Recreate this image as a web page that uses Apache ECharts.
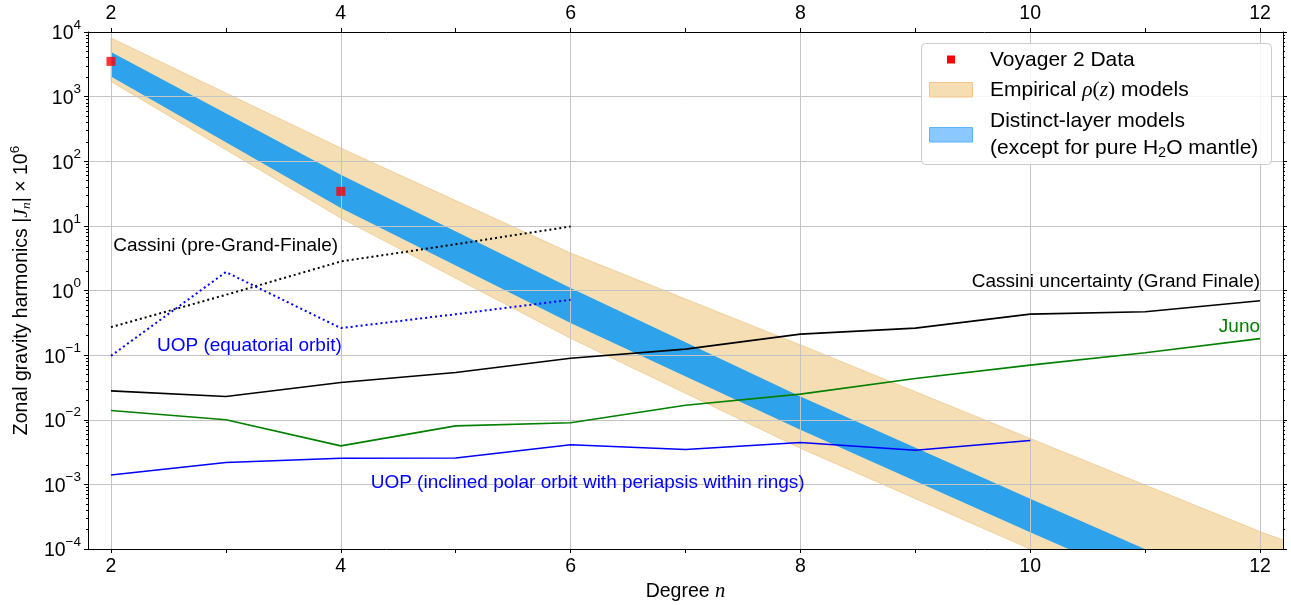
<!DOCTYPE html>
<html>
<head>
<meta charset="utf-8">
<title>Zonal gravity harmonics of Uranus</title>
<script src="https://cdn.jsdelivr.net/npm/echarts@6/dist/echarts.min.js"></script>
<style>
  html, body { margin: 0; padding: 0; background: #ffffff; }
  #chart { width: 1291px; height: 605px; }
</style>
</head>
<body>
<div id="chart"></div>
<script>
// ---- data (|J_n| x 10^6) ----
const degrees = [2, 3, 4, 5, 6, 7, 8, 9, 10, 11, 12];
const cassiniGrandFinale = [0.028, 0.0229, 0.0377, 0.0537, 0.0897, 0.124, 0.211, 0.262, 0.431, 0.468, 0.693];
const juno = [0.0139, 0.0100, 0.00394, 0.00805, 0.0090, 0.0168, 0.0249, 0.0435, 0.070, 0.109, 0.180];

const polarDegrees = [2, 3, 4, 5, 6, 7, 8, 9, 10];
const uopPolar = [0.0014, 0.00218, 0.00254, 0.00256, 0.00410, 0.00346, 0.00444, 0.00338, 0.00477];

const earlyDegrees = [2, 3, 4, 5, 6];
const cassiniPreGrandFinale = [0.271, 0.857, 2.81, 5.2, 9.8];
const uopEquatorial = [0.0975, 1.93, 0.262, 0.43, 0.718];

const voyagerDegrees = [2, 4];
const voyagerJ = [3510.7, 34.2];

// model envelopes, even degrees only
const bandDegrees = [2, 4, 6, 8, 10, 12, 14];
const empiricalUpper = [8070, 160, 3.79, 0.144, 0.00513, 0.000186, 0.0000093];
const empiricalLower = [1718, 13.2, 0.182, 0.00363, 0.000100, 0.000004, 0.0000002];
const layerUpper = [4900, 61.7, 1.09, 0.0229, 0.000597, 0.0000166, 0.0000005];
const layerLower = [2056, 18.9, 0.313, 0.00698, 0.000182, 0.000005, 0.00000016];

// ---- axis ticks ----
const xTickValues = [2, 3, 4, 5, 6, 7, 8, 9, 10, 11, 12];
const xLabelValues = [2, 4, 6, 8, 10, 12];
const yDecades = [1e-4, 1e-3, 1e-2, 1e-1, 1e0, 1e1, 1e2, 1e3, 1e4];
const yMinorTicks = [];
for (let k = -4; k < 4; k++) {
  for (let m = 2; m <= 9; m++) yMinorTicks.push(m * Math.pow(10, k));
}

// ---- annotations [degree, value, text, colour, anchor] ----
const annotations = [
  [2.02, 5.0, 'Cassini (pre-Grand-Finale)', '#000000', 'left'],
  [2.40, 0.14, 'UOP (equatorial orbit)', '#0000ff', 'left'],
  [12.0, 1.36, 'Cassini uncertainty (Grand Finale)', '#000000', 'right'],
  [12.0, 0.27, 'Juno', '#008000', 'right'],
  [4.26, 0.00105, 'UOP (inclined polar orbit with periapsis within rings)', '#0000ff', 'left']
];

const SANS = '"Liberation Sans", Arial, Helvetica, sans-serif';
const SERIF = '"Liberation Serif", "Times New Roman", serif';
const FS = 19.5;

const pair = (xs, ys) => xs.map((x, i) => [x, ys[i]]);

function bandSeries(name, lower, upper, fill, edge, z) {
  return {
    type: 'custom',
    name: name,
    clip: true,
    silent: true,
    z: z,
    data: bandDegrees.map((n, i) => [n, lower[i], upper[i]]),
    encode: { x: 0, y: [1, 2] },
    renderItem: function (params, api) {
      if (params.dataIndex !== 0) return null;
      const top = bandDegrees.map((n, i) => api.coord([n, upper[i]]));
      const bottom = bandDegrees.map((n, i) => api.coord([n, lower[i]])).reverse();
      return {
        type: 'polygon',
        shape: { points: top.concat(bottom) },
        style: { fill: fill, stroke: edge, lineWidth: edge ? 1 : 0 }
      };
    }
  };
}

function lineSeries(name, xs, ys, color, dotted) {
  return {
    type: 'line',
    name: name,
    data: pair(xs, ys),
    symbol: 'none',
    clip: true,
    silent: true,
    z: 3,
    lineStyle: {
      color: color,
      width: dotted ? 2 : 1.6,
      type: dotted ? [2, 3] : 'solid'
    }
  };
}

const xBase = {
  type: 'value',
  min: 1.8,
  max: 12.2,
  axisLine: { show: true, onZero: false, lineStyle: { color: '#000', width: 1 } },
  axisTick: { show: true, customValues: xTickValues, length: 4, lineStyle: { color: '#000', width: 1 } },
  axisLabel: { show: true, customValues: xLabelValues, color: '#000', fontSize: FS, fontFamily: SANS, margin: 8 },
  splitLine: { show: false }
};

const yRich = {
  b: { fontSize: FS, fontFamily: SANS, color: '#000', padding: [4, 0, 0, 0] },
  e: { fontSize: 13.5, fontFamily: SANS, color: '#000', padding: [0, 0, 14, 0] }
};

function yAxisDef(position, values, length, withLabels, withLine, withGrid) {
  const ax = {
    type: 'log',
    logBase: 10,
    position: position,
    min: 1e-4,
    max: 1e4,
    axisLine: { show: withLine, onZero: false, lineStyle: { color: '#000', width: 1 } },
    axisTick: { show: true, customValues: values, length: length, lineStyle: { color: '#000', width: 1 } },
    axisLabel: { show: withLabels },
    splitLine: { show: withGrid, showMinLine: false, showMaxLine: false, lineStyle: { color: '#c4c4c4', width: 1 } }
  };
  if (withLabels) {
    ax.axisLabel = {
      show: true,
      customValues: values,
      margin: 7,
      formatter: function (v) {
        const e = Math.round(Math.log10(v));
        return '{b|10}{e|' + String(e).replace('-', '\u2212') + '}';
      },
      rich: yRich
    };
  }
  return ax;
}

const yLeft = yAxisDef('left', yDecades, 4, true, true, true);
yLeft.name = 'Zonal gravity harmonics |{j|J}{sub|n}| \u00d7 10{sup|6}';
yLeft.nameLocation = 'middle';
yLeft.nameRotate = 90;
yLeft.nameGap = 53;
yLeft.nameTextStyle = {
  fontSize: FS, fontFamily: SANS, color: '#000',
  rich: {
    j: { fontSize: FS, fontFamily: SERIF, fontStyle: 'italic', color: '#000' },
    sub: { fontSize: 13.5, fontFamily: SERIF, fontStyle: 'italic', color: '#000', padding: [9, 0, 0, 0] },
    sup: { fontSize: 13.5, fontFamily: SANS, color: '#000', padding: [0, 0, 13, 0] }
  }
};

const chart = echarts.init(document.getElementById('chart'), null, { renderer: 'canvas' });

chart.setOption({
  animation: false,
  backgroundColor: '#ffffff',
  grid: { left: 88, right: 8, top: 32, bottom: 56, containLabel: false, outerBoundsMode: 'none' },
  xAxis: [
    Object.assign({}, xBase, {
      position: 'bottom',
      name: '{t|Degree }{i|n}',
      nameLocation: 'middle',
      nameGap: 31,
      nameTextStyle: {
        fontSize: FS, fontFamily: SANS, color: '#000',
        rich: {
          t: { fontSize: FS, fontFamily: SANS, color: '#000' },
          i: { fontSize: FS + 1, fontFamily: SERIF, fontStyle: 'italic', color: '#000' }
        }
      }
    }),
    Object.assign({}, xBase, { position: 'top' }),
    {
      type: 'value', position: 'bottom', min: 1.8, max: 12.2,
      axisLine: { show: false },
      axisTick: { show: false, customValues: xLabelValues },
      axisLabel: { show: false },
      splitLine: { show: true, lineStyle: { color: '#c4c4c4', width: 1 } }
    }
  ],
  yAxis: [
    yLeft,
    yAxisDef('left', yMinorTicks, 2, false, false, false),
    yAxisDef('right', yDecades, 4, false, true, false),
    yAxisDef('right', yMinorTicks, 2, false, false, false)
  ],
  series: [
    bandSeries('Empirical \u03c1(z) models', empiricalLower, empiricalUpper, '#f5deb3', 'rgba(236,196,132,0.7)', -2),
    bandSeries('Distinct-layer models', layerLower, layerUpper, '#2ea2ea', null, -1),
    lineSeries('Cassini uncertainty (Grand Finale)', degrees, cassiniGrandFinale, '#000000', false),
    lineSeries('Juno', degrees, juno, '#008000', false),
    lineSeries('UOP (inclined polar orbit)', polarDegrees, uopPolar, '#0000ff', false),
    lineSeries('Cassini (pre-Grand-Finale)', earlyDegrees, cassiniPreGrandFinale, '#000000', true),
    lineSeries('UOP (equatorial orbit)', earlyDegrees, uopEquatorial, '#0000ff', true),
    {
      type: 'scatter',
      name: 'Voyager 2 Data',
      data: pair(voyagerDegrees, voyagerJ),
      symbol: 'rect',
      symbolSize: 9,
      silent: true,
      z: 5,
      itemStyle: { color: '#ff0000' }
    }
  ]
});

// ---- legend and in-plot annotations ----
const LFS = 21;
const graphics = [
  { type: 'rect', z: 100, shape: { x: 921.5, y: 43.5, width: 350, height: 121, r: 4 },
    style: { fill: 'rgba(255,255,255,0.85)', stroke: '#cccccc', lineWidth: 1 } },
  { type: 'rect', z: 101, shape: { x: 947, y: 55.5, width: 8, height: 8 }, style: { fill: '#ff0000' } },
  { type: 'rect', z: 101, shape: { x: 929.5, y: 82.5, width: 43, height: 14.5 },
    style: { fill: '#f5deb3', stroke: '#eec58c', lineWidth: 1 } },
  { type: 'rect', z: 101, shape: { x: 929.5, y: 127.5, width: 43, height: 14.5 },
    style: { fill: '#8bc8fd', stroke: '#5db3f4', lineWidth: 1 } },
  { type: 'text', z: 101, x: 990, y: 60,
    style: { text: 'Voyager 2 Data', fontSize: LFS, fontFamily: SANS, fill: '#000', align: 'left', verticalAlign: 'middle' } },
  { type: 'text', z: 101, x: 990, y: 90,
    style: {
      text: 'Empirical {i|\u03c1}{p|(}{i|z}{p|)} models', fontSize: LFS, fontFamily: SANS, fill: '#000',
      align: 'left', verticalAlign: 'middle',
      rich: {
        i: { fontSize: 21.5, fontFamily: SERIF, fontStyle: 'italic', fill: '#000' },
        p: { fontSize: 21.5, fontFamily: SERIF, fill: '#000' }
      }
    } },
  { type: 'text', z: 101, x: 990, y: 134.5,
    style: {
      text: 'Distinct-layer models\n(except for pure H{s|2}O mantle)', fontSize: LFS, fontFamily: SANS, fill: '#000',
      align: 'left', verticalAlign: 'middle', lineHeight: 27.5,
      rich: {
        s: { fontSize: 14.5, fontFamily: SANS, fill: '#000', padding: [9, 0, 0, 0], lineHeight: 27.5 }
      }
    } }
];

annotations.forEach(function (a) {
  const p = chart.convertToPixel({ seriesIndex: 2 }, [a[0], a[1]]);
  graphics.push({
    type: 'text', z: 50, x: p[0], y: p[1],
    style: { text: a[2], fontSize: 19, fontFamily: SANS, fill: a[3], align: a[4], verticalAlign: 'middle' }
  });
});

chart.setOption({ graphic: graphics });
</script>
</body>
</html>
